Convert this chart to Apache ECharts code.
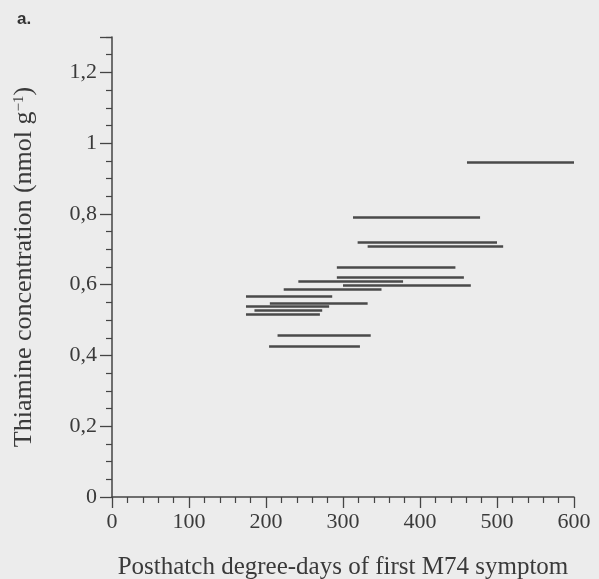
<!DOCTYPE html>
<html><head><meta charset="utf-8">
<script src="https://cdn.jsdelivr.net/npm/echarts@6/dist/echarts.min.js"></script>
<style>html,body{margin:0;padding:0;background:#ececec}#c{width:599px;height:579px}</style>
</head><body><div id="c"></div>
<script>
// Thiamine concentration of each group and the range of degree-days of first symptom
const concentration = [0.947, 0.790, 0.720, 0.709, 0.649, 0.620, 0.609, 0.599, 0.588, 0.568, 0.548, 0.538, 0.527, 0.517, 0.457, 0.427];
const startDD       = [461, 313, 319, 332, 292, 292, 242, 300, 223, 174, 205, 174, 185, 174, 215, 204];
const endDD         = [600, 478, 500, 508, 446, 457, 378, 466, 350, 286, 332, 282, 273, 270, 336, 322];
const xTickValues = [0, 100, 200, 300, 400, 500, 600];
const yTickValues = [0, 0.2, 0.4, 0.6, 0.8, 1, 1.2];

const segs = concentration.map((c, i) => ({ coords: [[startDD[i], c], [endDD[i], c]] }));
const txt = '#3a3a3a';
const font = 'Liberation Serif';
const chart = echarts.init(document.getElementById('c'), null, { renderer: 'canvas' });
chart.setOption({
  backgroundColor: '#ececec',
  animation: false,
  title: { text: 'a.', left: 12, top: 6, textStyle: { fontFamily: 'Liberation Sans', fontWeight: 'bold', fontSize: 17, color: '#333' } },
  grid: { left: 112, right: 25, top: 37, bottom: 82, containLabel: false, outerBoundsMode: 'none' },
  xAxis: {
    type: 'value', min: 0, max: 600, interval: 100,
    name: 'Posthatch degree-days of first M74 symptom', nameLocation: 'middle', nameGap: 58,
    nameTextStyle: { fontFamily: font, fontSize: 25, color: txt },
    axisLine: { show: true, lineStyle: { color: '#444', width: 1.5 } },
    axisTick: { show: true, length: 11, lineStyle: { color: '#444', width: 1.3 } },
    minorTick: { show: true, splitNumber: 5, length: 6, lineStyle: { color: '#444', width: 1.2 } },
    splitLine: { show: false },
    axisLabel: { margin: 14, fontFamily: font, fontSize: 22, color: txt,
      formatter: v => xTickValues.includes(v) ? String(v) : '' }
  },
  yAxis: {
    type: 'value', min: 0, max: 1.3, interval: 0.2,
    name: '{a|Thiamine concentration (nmol g}{s|−1}{a|)}', nameLocation: 'middle', nameGap: 75,
    nameTextStyle: { fontFamily: font, fontSize: 26, color: txt,
      rich: { a: { fontFamily: font, fontSize: 26, color: txt }, s: { fontFamily: font, fontSize: 15, color: txt, padding: [0, 0, 10, 0] } } },
    axisLine: { show: true, lineStyle: { color: '#444', width: 1.5 } },
    axisTick: { show: true, length: 12, lineStyle: { color: '#444', width: 1.3 } },
    minorTick: { show: true, splitNumber: 4, length: 6, lineStyle: { color: '#444', width: 1.2 } },
    splitLine: { show: false },
    axisLabel: { margin: 15, fontFamily: font, fontSize: 22, color: txt,
      formatter: v => {
        const m = yTickValues.find(t => Math.abs(t - v) < 1e-6);
        return m === undefined ? '' : String(m).replace('.', ',');
      } }
  },
  series: [{
    type: 'lines', coordinateSystem: 'cartesian2d', polyline: false,
    data: segs,
    lineStyle: { color: '#4a4a4a', width: 2.6, opacity: 1, cap: 'butt' },
    silent: true
  }]
});
</script></body></html>
